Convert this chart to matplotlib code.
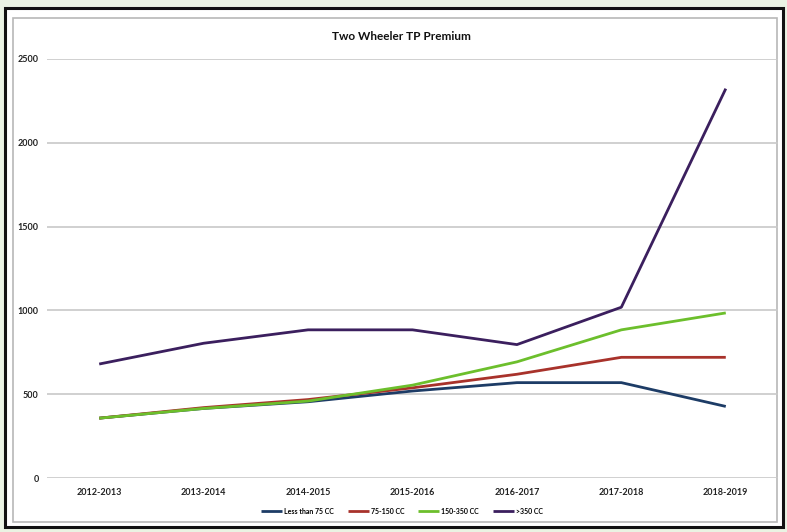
import matplotlib
matplotlib.use('Agg')
import matplotlib.pyplot as plt
from matplotlib.patches import Rectangle

# data
years = ['2012-2013', '2013-2014', '2014-2015', '2015-2016', '2016-2017', '2017-2018', '2018-2019']
less_75 = [357, 415, 455, 519, 569, 569, 427]
cc_75_150 = [357, 420, 468, 538, 619, 720, 720]
cc_150_350 = [357, 415, 459, 554, 693, 884, 985]
above_350 = [680, 804, 884, 884, 796, 1019, 2323]

series_names = ['Less than 75 CC', '75-150 CC', '150-350 CC', '>350 CC']
series_vals = [less_75, cc_75_150, cc_150_350, above_350]
series_colors = ['#1d3c66', '#a8322b', '#6cbf2c', '#3b1f5e']

plt.rcParams['font.family'] = ['Lato', 'DejaVu Sans']

fig = plt.figure(figsize=(7.87, 5.32), dpi=100)
fig.patch.set_facecolor('#eaf3e3')

W, H = 787.0, 532.0

#outer dark frame and white panel, in pixel coords converted to figure fraction
fig.patches.append(Rectangle((5 / W, (H - 527) / H), 778 / W, 519 / H, transform=fig.transFigure,
                             facecolor='white', edgecolor='#111111', linewidth=2.2, zorder=-10))
fig.patches.append(Rectangle((13 / W, (H - 522) / H), 764 / W, 504 / H, transform=fig.transFigure,
                             facecolor='white', edgecolor='#b8b8b8', linewidth=1.2, zorder=-9))

ax = fig.add_axes([47 / W, (H - 478) / H, 731 / W, 419 / H])
ax.set_facecolor('none')
ax.set_zorder(1)

x = list(range(len(years)))
for name, vals, col in zip(series_names, series_vals, series_colors):
    ax.plot(x, vals, color=col, linewidth=2.0, label=name, solid_capstyle='butt')

ax.set_xlim(-0.5, len(years) - 0.5)
ax.set_ylim(0, 2500)
ax.set_yticks([0, 500, 1000, 1500, 2000, 2500])
ax.set_yticklabels(['0', '500', '1000', '1500', '2000', '2500'])
ax.set_xticks(x)
ax.set_xticklabels(years)
ax.grid(axis='y', color='#c8c8c8', linewidth=1.2)
ax.set_axisbelow(True)
for s in ax.spines.values():
    s.set_visible(False)
ax.tick_params(axis='both', length=0, labelsize=6.5, colors='#222222')
ax.tick_params(axis='x', pad=7)
ax.tick_params(axis='y', pad=6)
for lab in ax.get_xticklabels() + ax.get_yticklabels():
    lab.set_fontweight('bold')

fig.text(401 / W, (H - 36) / H, 'Two Wheeler TP Premium', ha='center', va='center',
         fontsize=8.5, fontweight='bold', color='#111111')

leg = ax.legend(loc='center', bbox_to_anchor=(402 / W, (H - 511) / H), bbox_transform=fig.transFigure,
                ncol=4, frameon=False, fontsize=5, handlelength=3, handletextpad=0.3,
                columnspacing=2.0)
for t in leg.get_texts():
    t.set_fontweight('bold')

plt.savefig('out.png', dpi=100, facecolor=fig.get_facecolor())
plt.close()
